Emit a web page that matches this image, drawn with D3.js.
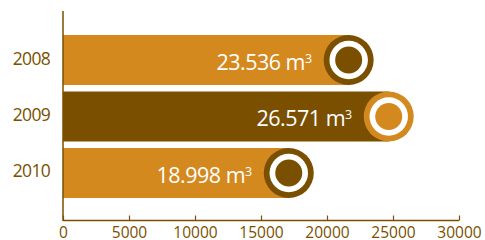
<!DOCTYPE html>
<html>
<head>
<meta charset="utf-8">
<script src="https://cdn.jsdelivr.net/npm/d3@7"></script>
<style>
  body { margin: 0; background: #fff; }
  text { font-family: "Open Sans", sans-serif; }
</style>
</head>
<body>
<svg id="chart" width="485" height="240"></svg>
<script>
const years = ["2008", "2009", "2010"];
const volumes = [23536, 26571, 18998];
const valueLabels = ["23.536", "26.571", "18.998"];
const xTicks = [0, 5000, 10000, 15000, 20000, 25000, 30000];

const ORANGE = "#d4891f";
const BROWN = "#7a5000";
const barColors = [ORANGE, BROWN, ORANGE];
const ringColors = [BROWN, ORANGE, BROWN];

const svg = d3.select("#chart");

const x = d3.scaleLinear().domain([0, 30000]).range([63, 459]);
const y = d3.scaleBand().domain(years).range([35, 198]).paddingInner(0.115).paddingOuter(0);

const data = years.map((yr, i) => ({
  year: yr,
  value: volumes[i],
  label: valueLabels[i],
  bar: barColors[i],
  ring: ringColors[i],
}));

const r = y.bandwidth() / 2;

// bars end at the circle centre, circle edge sits on the value
svg.append("g")
  .selectAll("rect")
  .data(data)
  .join("rect")
  .attr("x", x(0))
  .attr("y", (d) => y(d.year))
  .attr("width", (d) => x(d.value) - r - x(0))
  .attr("height", y.bandwidth())
  .attr("fill", (d) => d.bar);

const knobs = svg.append("g")
  .selectAll("g")
  .data(data)
  .join("g")
  .attr("transform", (d) => `translate(${x(d.value) - r}, ${y(d.year) + r})`);

knobs.append("circle").attr("r", r).attr("fill", (d) => d.ring);
knobs.append("circle").attr("r", r * 0.77).attr("fill", "#fff");
knobs.append("circle").attr("r", r * 0.54).attr("fill", (d) => d.ring);

const labels = svg.append("g")
  .selectAll("text")
  .data(data)
  .join("text")
  .attr("x", (d) => x(d.value) - 2 * r - 12)
  .attr("y", (d) => y(d.year) + r + 9.7)
  .attr("text-anchor", "end")
  .attr("fill", "#fff")
  .attr("font-size", 21.5)
  .attr("letter-spacing", -0.5);

labels.append("tspan").text((d) => d.label + " m");
labels.append("tspan")
  .attr("dy", -7)
  .attr("font-size", 12.5)
  .text("3");

// year labels
svg.append("g")
  .selectAll("text")
  .data(data)
  .join("text")
  .attr("x", 50)
  .attr("y", (d) => y(d.year) + r + 4.5)
  .attr("text-anchor", "end")
  .attr("fill", BROWN)
  .attr("font-size", 17.5)
  .attr("letter-spacing", -0.7)
  .text((d) => d.year);

// y axis line
svg.append("line")
  .attr("x1", x(0)).attr("x2", x(0))
  .attr("y1", 11).attr("y2", 221)
  .attr("stroke", BROWN)
  .attr("stroke-width", 1.5);

// x axis, ticks pointing up
const xAxis = svg.append("g")
  .attr("transform", "translate(0,220.5)")
  .call(d3.axisTop(x).tickValues(xTicks).tickSize(5).tickFormat(d3.format("d")));

xAxis.select(".domain")
  .attr("d", `M${x(0)},0H${x(30000)}`)
  .attr("stroke", BROWN)
  .attr("stroke-width", 1.3);
xAxis.selectAll(".tick line").attr("stroke", BROWN).attr("stroke-width", 1.2);
xAxis.selectAll(".tick text")
  .attr("y", 17.8)
  .attr("dy", 0)
  .attr("fill", BROWN)
  .attr("font-size", 15.5)
  .attr("font-family", "Open Sans, sans-serif");
</script>
</body>
</html>
